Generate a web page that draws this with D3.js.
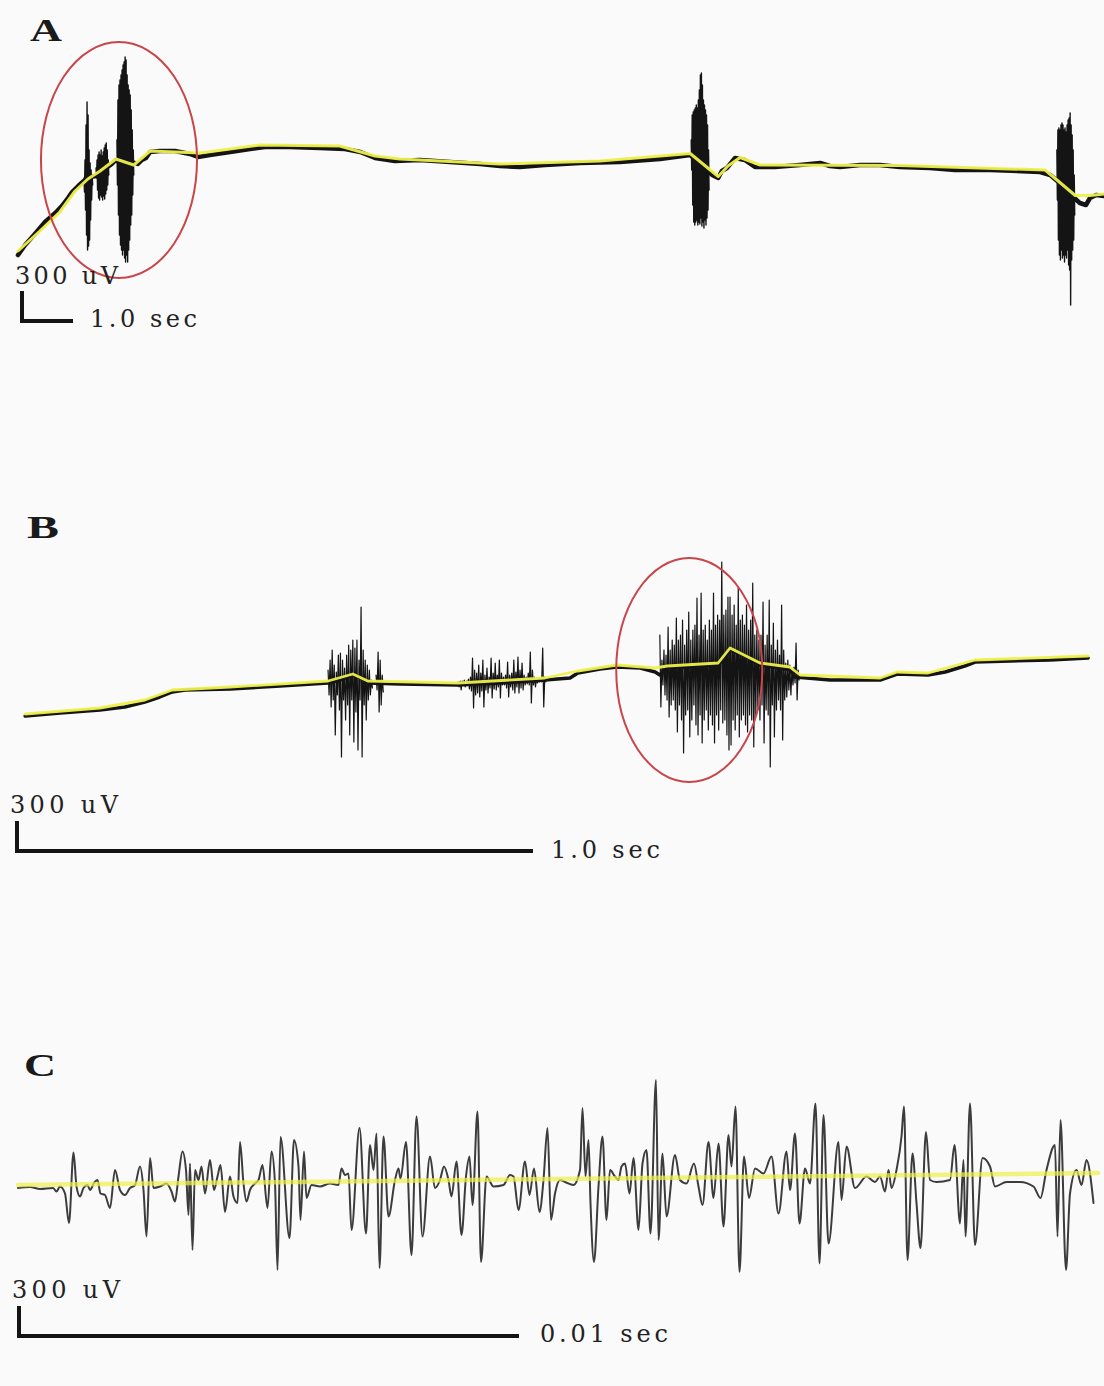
<!doctype html>
<html>
<head>
<meta charset="utf-8">
<title>Field recordings A-C</title>
<style>
  body { margin: 0; background: #fafafa; }
  svg { display: block; }
  .lbl { font-family: "DejaVu Serif", "Liberation Serif", serif; fill: #222; }
  .panel-letter { font-family: "Liberation Serif", serif; font-weight: bold; fill: #1a1a1a; }
</style>
<script src="https://cdn.jsdelivr.net/npm/d3@7"></script>
</head>
<body>
<svg width="1104" height="1386"></svg>
<script>

// ---- panel A: long recording, time in s, amplitude in uV ----
var aTrace = [
  [0,-1050],[0.14,-950],[0.33,-840],[0.53,-720],[0.73,-630],[0.86,-560],[0.98,-480],[1.06,-420],
  [1.18,-360],[1.29,-310],[1.41,-270],[1.53,-260],[1.61,-220],[1.73,-180],[1.84,-140],[1.92,-100],
  [2.00,-130],[2.12,-170],[2.24,-120],[2.35,-140],[2.43,-100],[2.51,-80],[2.59,-20],[2.78,-10],
  [3.08,-10],[3.37,-40],[3.53,-70],[3.76,-50],[4.16,-20],[4.55,10],[4.84,30],[5.33,30],[5.92,20],
  [6.41,10],[6.71,-20],[7.00,-80],[7.39,-110],[7.88,-100],[8.47,-120],[9.06,-140],[9.45,-160],
  [9.84,-170],[10.33,-150],[11.02,-130],[11.80,-120],[12.59,-90],[13.18,-50],[13.37,-130],
  [13.61,-250],[13.73,-280],[13.80,-210],[13.90,-180],[14.06,-80],[14.25,-100],[14.45,-170],
  [14.84,-170],[15.33,-150],[15.73,-130],[15.92,-160],[16.12,-170],[16.51,-150],[16.90,-150],
  [17.29,-170],[17.88,-180],[18.37,-200],[19.06,-200],[20.04,-220],[20.24,-250],[20.47,-350],
  [20.69,-470],[20.82,-530],[20.94,-550],[21.02,-480],[21.14,-450],[21.29,-460]
];
var aSmooth = [
  [0,-1010],[0.43,-810],[0.82,-620],[1.12,-410],[1.37,-290],[1.61,-210],[1.92,-90],[2.27,-150],
  [2.59,-10],[3.57,-30],[4.75,50],[6.31,40],[7.00,-60],[7.49,-90],[9.45,-140],[11.41,-110],
  [13.18,-35],[13.73,-265],[13.92,-160],[14.16,-75],[14.55,-150],[17.29,-155],[20.14,-200],
  [20.73,-455],[21.02,-455],[21.29,-440]
];
var aBurstStep = 0.02;
var aBurstStart = [1.294, 1.53, 1.94, 13.20, 20.37];
var aBurst1 = [[-280,-420],[-100,-600],[250,-850],[480,-1000],[350,-960],[0,-900],[-130,-700],[-200,-500],[-250,-350]];
var aBurst2 = [[-180,-280],[-100,-400],[-50,-480],[-20,-500],[-50,-450],[0,-470],[-60,-500],[-20,-460],[20,-490],[50,-440],[70,-400],[0,-350],[-100,-250]];
var aBurst3 = [[100,-350],[500,-650],[650,-850],[700,-950],[750,-1000],[800,-1050],[850,-1000],[880,-1080],[930,-1120],[900,-1050],[750,-1120],[650,-1000],[600,-900],[550,-750],[400,-650],[200,-450],[0,-250]];
var aBurst4 = [[100,-200],[350,-550],[380,-720],[400,-750],[420,-720],[450,-700],[420,-750],[500,-720],[600,-740],[750,-680],[770,-760],[650,-720],[500,-780],[450,-700],[400,-750],[350,-680],[250,-600],[0,-400]];
var aBurst5 = [[0,-500],[200,-900],[220,-1050],[200,-1100],[250,-1000],[270,-1080],[250,-1050],[200,-1120],[220,-1050],[180,-1080],[250,-1000],[300,-1150],[320,-1200],[370,-1550],[250,-1100],[150,-1000],[0,-900],[-250,-650]];
var aCircle = [1.98, -100, 1.53, 1180];   // centre t, centre uV, half width s, half height uV

// ---- panel B: zoomed recording ----
var bTrace = [
  [0.010,-310],[0.078,-280],[0.155,-250],[0.203,-220],[0.242,-170],[0.271,-120],[0.295,-70],
  [0.320,-50],[0.407,-40],[0.504,-10],[0.597,20],[0.620,50],[0.645,100],[0.663,70],[0.674,20],
  [0.736,10],[0.849,0],[0.930,20],[1.017,50],[1.066,70],[1.081,120],[1.124,160],[1.157,180],
  [1.202,170],[1.231,130],[1.240,100],[1.254,170],[1.298,180],[1.353,200],[1.376,350],[1.405,290],
  [1.434,200],[1.473,170],[1.492,150],[1.502,80],[1.570,50],[1.667,50],[1.700,110],[1.760,100],
  [1.793,130],[1.831,190],[1.851,230],[1.919,240],[1.996,250],[2.070,270]
];
var bSmooth = [
  [0.010,-290],[0.155,-230],[0.242,-150],[0.295,-50],[0.407,-20],[0.597,40],[0.645,110],[0.674,40],
  [0.849,20],[1.017,70],[1.081,140],[1.157,200],[1.231,170],[1.254,190],[1.353,220],[1.376,370],
  [1.434,220],[1.492,180],[1.512,100],[1.667,70],[1.700,130],[1.760,120],[1.851,250],[2.070,290]
];
var bBurstStep = 0.004;
var bBurstStart = [0.597, 0.690, 0.849, 1.240];
var bBurst1 = [[150,-100],[250,-220],[350,-150],[200,-500],[130,-100],[300,-250],[320,-720],[250,-150],[170,-350],[300,-200],[400,-500],[350,-150],[450,-570],[370,-270],[450,-650],[250,-150],[780,-720],[350,-200],[250,-350],[200,-150],[150,-100],[50,-30]];
var bBurst2 = [[100,-50],[330,-270],[250,-200],[100,-70]];
var bBurst3 = [[30,-20],[40,-50],[40,0],[50,-20],[40,0],[60,-40],[80,-60],[270,-230],[150,-100],[120,-80],[200,-120],[120,-60],[250,-220],[100,-50],[170,-80],[80,-30],[270,-130],[120,-40],[220,-50],[100,-20],[250,-130],[120,0],[80,0],[100,-30],[230,-120],[100,-20],[120,-50],[250,-80],[130,-20],[280,-80],[150,-30],[220,-50],[100,0],[80,10],[120,0],[330,-180],[150,0],[80,-20],[60,20],[70,30],[60,30],[370,-220],[80,30]];
var bBurst4 = [[500,-220],[250,0],[350,-100],[300,-150],[580,-320],[350,-200],[450,-150],[400,-250],[670,-470],[450,-200],[500,-350],[650,-680],[400,-300],[550,-250],[730,-520],[450,-350],[550,-200],[600,-400],[870,-500],[500,-300],[920,-580],[550,-350],[600,-250],[450,-450],[650,-300],[550,-400],[920,-580],[600,-300],[700,-450],[650,-250],[1230,-380],[700,-350],[750,-500],[880,-650],[880,-600],[700,-350],[800,-450],[600,-300],[970,-520],[650,-350],[700,-300],[600,-400],[800,-470],[550,-300],[650,-350],[1020,-620],[500,-300],[550,-250],[450,-350],[500,-200],[830,-580],[400,-250],[500,-300],[850,-820],[400,-200],[620,-520],[350,-250],[450,-150],[300,-250],[800,-550],[350,-150],[220,-120],[250,-50],[200,-100],[150,0],[180,20],[420,-150],[150,50]];
var bCircle = [1.297, 150, 0.1415, 1120];

// ---- panel C: single burst, time in ms ----
var cTrace = [
  [0.00,-30],[0.24,-20],[0.44,-40],[0.70,-30],[0.77,-65],[0.84,-15],[0.94,-85],[1.02,-380],
  [1.11,325],[1.17,-15],[1.24,-115],[1.31,-30],[1.39,0],[1.44,-50],[1.52,20],[1.59,50],[1.65,-85],
  [1.74,-100],[1.84,-230],[1.94,150],[2.04,-50],[2.14,-100],[2.24,-30],[2.34,0],[2.44,185],
  [2.51,-50],[2.57,-515],[2.64,270],[2.71,-30],[2.84,-15],[2.97,15],[3.07,-65],[3.14,-165],
  [3.21,85],[3.29,335],[3.36,150],[3.41,-300],[3.44,215],[3.49,-650],[3.54,150],[3.61,50],
  [3.67,185],[3.74,-85],[3.84,250],[3.92,-50],[3.99,85],[4.05,200],[4.14,-270],[4.24,85],
  [4.31,-115],[4.39,-180],[4.44,430],[4.51,15],[4.57,-165],[4.64,-50],[4.74,15],[4.81,50],
  [4.89,200],[4.99,-230],[5.07,335],[5.14,15],[5.19,-850],[5.25,480],[5.43,-530],[5.52,450],
  [5.61,185],[5.65,-350],[5.72,335],[5.77,-130],[5.87,0],[6.04,-15],[6.24,15],[6.41,0],[6.47,165],
  [6.54,100],[6.61,115],[6.67,-450],[6.83,570],[6.96,-485],[7.04,400],[7.11,150],[7.17,515],
  [7.23,-830],[7.31,485],[7.41,-315],[7.54,50],[7.61,165],[7.65,65],[7.76,430],[7.87,-700],
  [7.97,685],[8.09,-515],[8.24,285],[8.34,-30],[8.44,50],[8.52,185],[8.61,50],[8.67,-115],
  [8.77,235],[8.87,-500],[8.96,85],[9.03,285],[9.09,-200],[9.19,735],[9.26,-770],[9.37,85],
  [9.51,-15],[9.71,0],[9.84,100],[9.91,85],[10.01,-250],[10.14,235],[10.23,-100],[10.32,165],
  [10.43,-270],[10.51,50],[10.59,570],[10.66,-350],[10.74,-85],[10.84,50],[10.94,30],[11.11,0],
  [11.24,150],[11.29,770],[11.35,85],[11.41,450],[11.45,-180],[11.52,-770],[11.61,-15],[11.69,485],
  [11.77,-350],[11.84,150],[11.94,85],[12.01,50],[12.07,185],[12.14,215],[12.23,-85],[12.31,270],
  [12.41,-450],[12.49,215],[12.57,350],[12.65,-485],[12.76,1050],[12.81,-550],[12.89,315],
  [12.97,-315],[13.14,300],[13.24,50],[13.37,15],[13.52,215],[13.61,-15],[13.69,-200],[13.81,430],
  [13.91,-130],[14.01,415],[14.11,-415],[14.21,500],[14.27,185],[14.35,785],[14.43,-870],
  [14.52,285],[14.62,-130],[14.74,165],[14.91,115],[15.07,285],[15.21,-285],[15.37,335],
  [15.44,-50],[15.54,515],[15.63,-385],[15.74,165],[15.84,15],[15.95,815],[16.03,-785],[16.11,700],
  [16.21,-585],[16.41,430],[16.47,-150],[16.57,385],[16.74,-30],[16.97,85],[17.14,30],[17.24,85],
  [17.34,-65],[17.41,150],[17.47,-30],[17.57,150],[17.67,485],[17.72,785],[17.79,-750],[17.89,315],
  [17.97,-180],[18.05,-630],[18.16,530],[18.24,50],[18.37,30],[18.64,50],[18.73,400],[18.84,-385],
  [18.91,250],[18.95,-515],[19.04,815],[19.14,-600],[19.29,270],[19.44,185],[19.54,-15],[19.77,30],
  [20.04,30],[20.31,-15],[20.45,-130],[20.57,150],[20.74,400],[20.79,-515],[20.85,650],[20.96,-850],
  [21.04,-85],[21.17,150],[21.27,0],[21.37,250],[21.51,-180]
];
var cSmooth = [[0, 0], [21.6, 120]];

// scale bar sizes and their labels
var barSeconds = [1.0, 1.0, 10];      // A and B in s, C in ms
var barMicroVolts = [300, 300, 300];
var barVoltText = ['300 uV', '300 uV', '300 uV'];
var barTimeText = ['1.0 sec', '1.0 sec', '0.01 sec'];
var panelLetters = ['A', 'B', 'C'];

var $svg = d3.select('svg');
var BLACK = '#141414';
var YELLOW = '#eef04a';
var RED = '#c8454a';

var xA = d3.scaleLinear().domain([0, 21.3]).range([18, 18 + 21.3 * 51]);
var yA = d3.scaleLinear().domain([0, 300]).range([150, 120]);
var xB = d3.scaleLinear().domain([0, 2.1]).range([20, 20 + 2.1 * 516]);
var yB = d3.scaleLinear().domain([0, 300]).range([685, 655]);
var xC = d3.scaleLinear().domain([0, 21.6]).range([18, 18 + 21.6 * 50]);
var yC = d3.scaleLinear().domain([0, 300]).range([1185, 1155]);

function trace(g, x, y, data, color, width, curve, opacity) {
  var line = d3.line()
    .x(function(d){ return x(d[0]); })
    .y(function(d){ return y(d[1]); })
    .curve(curve || d3.curveLinear);
  g.append('path')
    .datum(data)
    .attr('d', line)
    .attr('fill', 'none')
    .attr('stroke', color)
    .attr('stroke-width', width)
    .attr('stroke-linejoin', 'round')
    .attr('stroke-linecap', 'round')
    .attr('opacity', opacity == null ? 1 : opacity);
}

// a burst: pairs of [peak, trough] sampled every `step`
function burst(g, x, y, start, step, pairs, width) {
  var pts = [];
  pairs.forEach(function(p, i){
    var t = start + i * step;
    pts.push([t, p[0]]);
    pts.push([t + step / 2, p[1]]);
  });
  trace(g, x, y, pts, BLACK, width);
}

function ring(g, x, y, c) {
  g.append('ellipse')
    .attr('cx', x(c[0]))
    .attr('cy', y(c[1]))
    .attr('rx', x(c[0] + c[2]) - x(c[0]))
    .attr('ry', y(c[1] - c[3]) - y(c[1]))
    .attr('fill', 'none')
    .attr('stroke', RED)
    .attr('stroke-width', 2);
}

function scaleBar(g, i, x, y, cx, cy, vText, tText) {
  var w = x(barSeconds[i]) - x(0);
  var h = y(0) - y(barMicroVolts[i]);
  g.append('path')
    .attr('d', 'M' + cx + ',' + (cy - h) + 'V' + cy + 'H' + (cx + w))
    .attr('fill', 'none')
    .attr('stroke', BLACK)
    .attr('stroke-width', 4);
  g.append('text').attr('class', 'lbl')
    .attr('x', vText[0]).attr('y', vText[1])
    .attr('font-size', 24)
    .attr('textLength', vText[2]).attr('lengthAdjust', 'spacing')
    .text(barVoltText[i]);
  g.append('text').attr('class', 'lbl')
    .attr('x', tText[0]).attr('y', tText[1])
    .attr('font-size', 24)
    .attr('textLength', tText[2]).attr('lengthAdjust', 'spacing')
    .text(barTimeText[i]);
}

function letter(g, i, px, py) {
  g.append('text').attr('class', 'panel-letter')
    .attr('x', px).attr('y', py)
    .attr('font-size', 31)
    .attr('textLength', 32).attr('lengthAdjust', 'spacingAndGlyphs')
    .text(panelLetters[i]);
}

// ---- A ----
var $a = $svg.append('g');
letter($a, 0, 30, 41);
trace($a, xA, yA, aTrace, BLACK, 4.5);
[aBurst1, aBurst2, aBurst3, aBurst4, aBurst5].forEach(function(b, i){
  burst($a, xA, yA, aBurstStart[i], aBurstStep, b, 1.4);
});
trace($a, xA, yA, aSmooth, YELLOW, 3, d3.curveLinear, 0.95);
ring($a, xA, yA, aCircle);
scaleBar($a, 0, xA, yA, 22, 321, [15, 284, 103], [90, 327, 107]);

// ---- B ----
var $b = $svg.append('g');
letter($b, 1, 27, 538);
trace($b, xB, yB, bTrace, BLACK, 3.5);
[bBurst1, bBurst2, bBurst3, bBurst4].forEach(function(b, i){
  burst($b, xB, yB, bBurstStart[i], bBurstStep, b, 1.2);
});
trace($b, xB, yB, bSmooth, YELLOW, 2.8, d3.curveLinear, 0.95);
ring($b, xB, yB, bCircle);
scaleBar($b, 1, xB, yB, 17, 851, [10, 813, 108], [551, 858, 109]);

// ---- C ----
var $c = $svg.append('g');
letter($c, 2, 24, 1076);
trace($c, xC, yC, cTrace, '#3c3c3c', 2, d3.curveMonotoneX);
trace($c, xC, yC, cSmooth, YELLOW, 4.5, d3.curveLinear, 0.7);
scaleBar($c, 2, xC, yC, 19, 1336, [12, 1298, 108], [540, 1342, 128]);

</script>
</body>
</html>
